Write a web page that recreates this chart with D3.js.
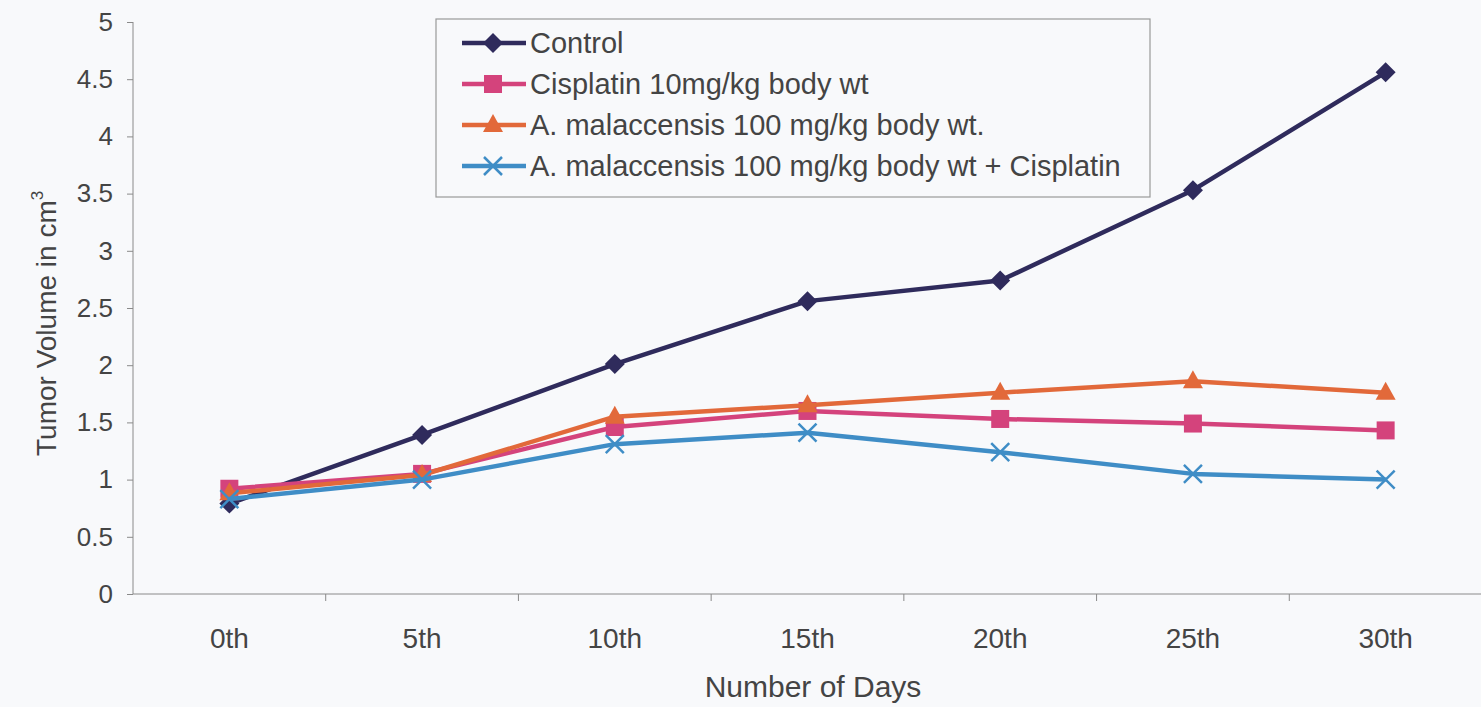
<!DOCTYPE html>
<meta charset="utf-8">
<style>
  body { margin: 0; background: #f8f9fb; }
  svg { display: block; font-family: "Liberation Sans", Arial, sans-serif; }
  .axis text { fill: #444; }
  .axis path, .axis line { stroke: #8a8a8a; }
</style>
<svg width="1481" height="707"></svg>
<script src="https://d3js.org/d3.v7.min.js"></script>
<script>
  // categories and series
  var days = ["0th", "5th", "10th", "15th", "20th", "25th", "30th"];
  var control = [0.79, 1.39, 2.01, 2.56, 2.74, 3.53, 4.56];
  var cisplatin = [0.92, 1.05, 1.46, 1.60, 1.53, 1.49, 1.43];
  var malaccensis = [0.88, 1.04, 1.55, 1.65, 1.76, 1.86, 1.76];
  var combo = [0.83, 1.00, 1.31, 1.41, 1.24, 1.05, 1.00];
  var yTicks = [0, 0.5, 1, 1.5, 2, 2.5, 3, 3.5, 4, 4.5, 5];

  var series = [
    { name: "Control", values: control, color: "#2f2b5c", marker: "diamond" },
    { name: "Cisplatin 10mg/kg body wt", values: cisplatin, color: "#d4437c", marker: "square" },
    { name: "A. malaccensis 100 mg/kg body wt.", values: malaccensis, color: "#e2693a", marker: "triangle" },
    { name: "A. malaccensis 100 mg/kg body wt + Cisplatin", values: combo, color: "#3f8dc6", marker: "cross" }
  ];

  var svg = d3.select("svg");
  // plot area bounds (note: don't call it "top", that's window.top)
  var pLeft = 133, pRight = 1482, pTop = 22, pBottom = 594;

  var x = d3.scaleBand().domain(days).range([pLeft, pRight]);
  var y = d3.scaleLinear().domain([0, 5]).range([pBottom, pTop]);

  // y axis
  var gy = svg.append("g").attr("class", "axis")
    .attr("transform", "translate(" + pLeft + ",0)")
    .call(d3.axisLeft(y).tickValues(yTicks).tickSize(6).tickPadding(14).tickFormat(d3.format("")));
  gy.select(".domain").attr("d", "M0," + pTop + "V" + pBottom);
  gy.selectAll("text").attr("font-size", 26);

  // x axis, ticks sit between the categories
  var gx = svg.append("g").attr("class", "axis")
    .attr("transform", "translate(0," + pBottom + ")");
  gx.append("line").attr("x1", pLeft).attr("x2", pRight);
  gx.selectAll(".sep")
    .data(days.slice(1))
    .enter().append("line")
    .attr("x1", function (d) { return x(d); })
    .attr("x2", function (d) { return x(d); })
    .attr("y2", 7);
  gx.selectAll(".lab")
    .data(days)
    .enter().append("text")
    .attr("x", function (d) { return x(d) + x.bandwidth() / 2; })
    .attr("y", 54)
    .attr("text-anchor", "middle")
    .attr("font-size", 28)
    .text(function (d) { return d; });

  // axis titles
  svg.append("text")
    .attr("x", 813).attr("y", 697)
    .attr("text-anchor", "middle")
    .attr("font-size", 30).attr("fill", "#444")
    .text("Number of Days");

  var yt = svg.append("text")
    .attr("transform", "translate(56,456) rotate(-90)")
    .attr("text-anchor", "start")
    .attr("font-size", 28).attr("fill", "#444");
  yt.append("tspan").text("Tumor Volume in cm");
  yt.append("tspan").attr("dy", -13).attr("font-size", 17).text("3");

  // Excel-like marker shapes
  var shapes = {
    diamond: "M0,-10L10,0L0,10L-10,0Z",
    square: "M-9,-9H9V9H-9Z",
    triangle: "M0,-11L10,7H-10Z",
    cross: "M-9,-9L9,9M9,-9L-9,9"
  };

  function drawMarker(g, s) {
    var p = g.append("path").attr("d", shapes[s.marker]);
    if (s.marker === "cross") {
      p.attr("fill", "none").attr("stroke", s.color).attr("stroke-width", 2.5);
    } else {
      p.attr("fill", s.color);
    }
    return p;
  }

  var line = d3.line()
    .x(function (d, i) { return x(days[i]) + x.bandwidth() / 2; })
    .y(function (d) { return y(d); });

  series.forEach(function (s) {
    var g = svg.append("g");
    g.append("path")
      .datum(s.values)
      .attr("d", line)
      .attr("fill", "none")
      .attr("stroke", s.color)
      .attr("stroke-width", 4.5)
      .attr("stroke-linejoin", "round");
    s.values.forEach(function (v, i) {
      var m = g.append("g")
        .attr("transform", "translate(" + (x(days[i]) + x.bandwidth() / 2) + "," + y(v) + ")");
      drawMarker(m, s);
    });
  });

  // legend
  var lg = svg.append("g").attr("transform", "translate(436,19)");
  lg.append("rect")
    .attr("width", 714).attr("height", 178)
    .attr("fill", "#f8f9fb").attr("stroke", "#999").attr("stroke-width", 1.2);
  series.forEach(function (s, i) {
    var row = lg.append("g").attr("transform", "translate(0," + (24 + i * 41) + ")");
    row.append("line").attr("x1", 26).attr("x2", 90)
      .attr("stroke", s.color).attr("stroke-width", 4.5);
    var m = row.append("g").attr("transform", "translate(57,0)");
    drawMarker(m, s);
    row.append("text")
      .attr("x", 94).attr("y", 10)
      .attr("font-size", 29).attr("fill", "#444")
      .text(s.name);
  });
</script>
